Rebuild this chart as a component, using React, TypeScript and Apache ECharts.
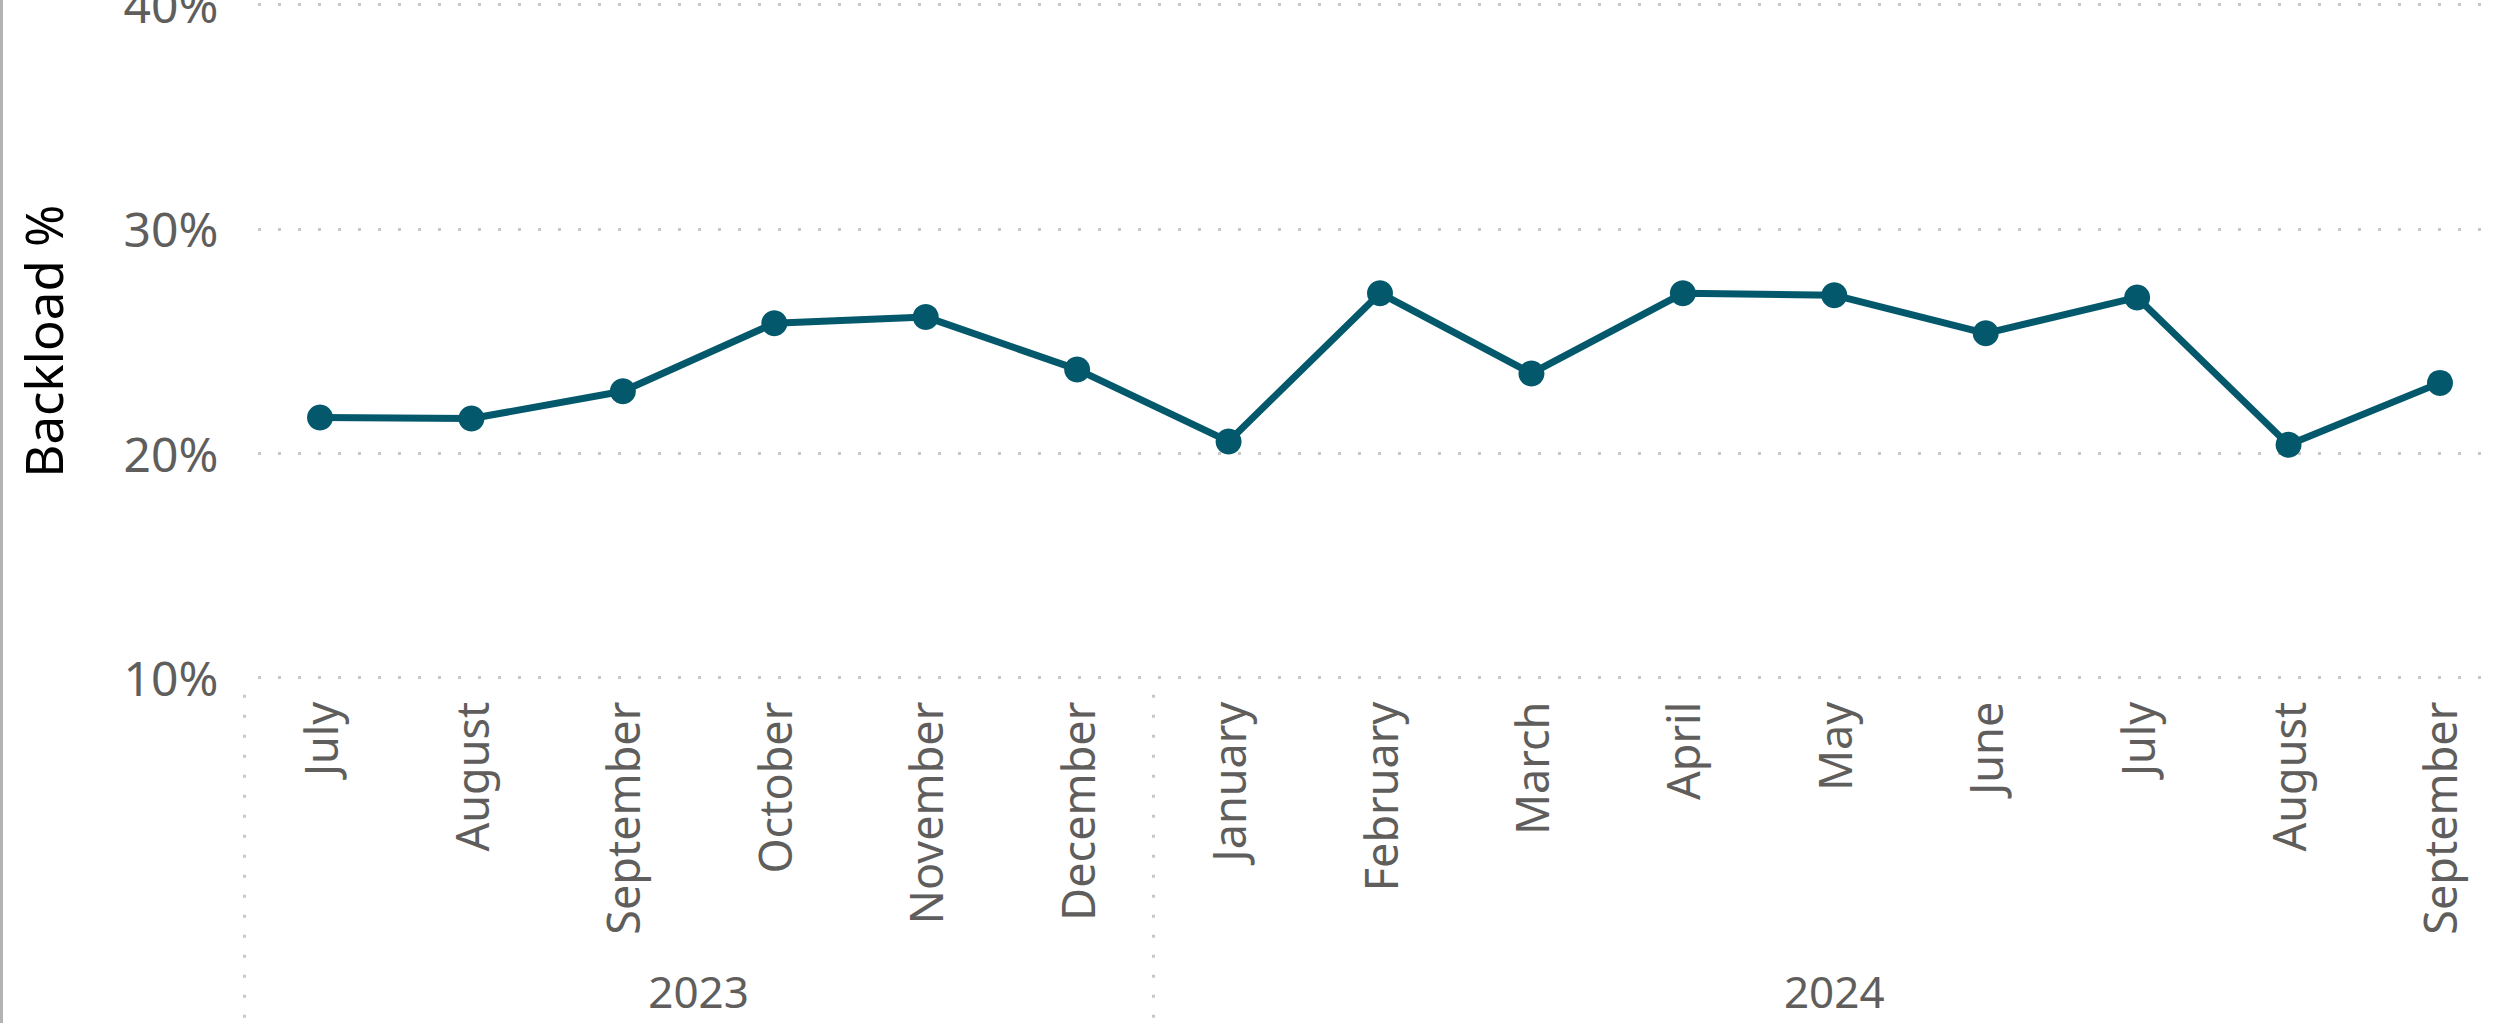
import React, { useEffect, useRef } from "react";
import * as echarts from "echarts";

const months = [
  "July", "August", "September", "October", "November", "December",
  "January", "February", "March", "April", "May", "June", "July", "August", "September",
];
const backload = [
  21.6, 21.55, 22.77, 25.8, 26.08, 23.74,
  20.53, 27.14, 23.56, 27.13, 27.05, 25.35, 26.95, 20.38, 23.14,
];
const years = ["2023", "2024"];
const yearMonthCounts = [6, 9];
const yTicks = [10, 20, 30, 40];

const FONT = "Noto Sans";
const GRAY = "#605E5C";
const DOT = "#C8C8C8";
const LINE = "#03596B";

export default function App() {
  const ref = useRef<HTMLDivElement>(null);

  useEffect(() => {
    if (!ref.current) return;
    const chart = echarts.init(ref.current, null, { renderer: "svg" });

    // Year axis: half-month resolution points from 0 to total months
    const total = yearMonthCounts.reduce((a, b) => a + b, 0);
    const yearAxisData: string[] = [];
    for (let i = 0; i <= total * 2; i++) yearAxisData.push("");
    const boundaryIdx: number[] = [0];
    const labelIdx: number[] = [];
    let acc = 0;
    yearMonthCounts.forEach((c, k) => {
      const centerIdx = acc * 2 + c;
      yearAxisData[centerIdx] = years[k];
      labelIdx.push(centerIdx);
      acc += c;
      boundaryIdx.push(acc * 2);
    });

    const top = 4.6;
    const bottom = 345.3;

    chart.setOption({
      animation: false,
      backgroundColor: "#ffffff",
      textStyle: { fontFamily: FONT },
      graphic: [
        {
          type: "rect",
          left: 0,
          top: 0,
          shape: { x: 0, y: 0, width: 3, height: 1023 },
          style: { fill: "#B3B3B3" },
          silent: true,
        },
      ],
      grid: [
        { left: 244.3, right: -7.7, top, bottom, containLabel: false, outerBoundsMode: "none" },
        { left: 258, right: 26, top, bottom, containLabel: false, outerBoundsMode: "none" },
      ],
      xAxis: [
        {
          type: "category",
          gridIndex: 0,
          data: months,
          boundaryGap: true,
          axisLine: { show: false },
          axisTick: { show: false },
          splitLine: { show: false },
          axisLabel: {
            rotate: 90,
            margin: 24,
            interval: 0,
            fontSize: 45,
            fontFamily: FONT,
            color: GRAY,
          },
        },
        {
          type: "category",
          gridIndex: 0,
          data: yearAxisData,
          boundaryGap: false,
          position: "bottom",
          offset: 17,
          axisLine: { show: false },
          axisTick: {
            show: true,
            interval: (idx: number) => boundaryIdx.includes(idx),
            length: 340,
            lineStyle: { color: DOT, width: 3, type: [3, 17] },
          },
          splitLine: { show: false },
          axisLabel: {
            interval: (idx: number) => labelIdx.includes(idx),
            margin: 274,
            fontSize: 44,
            fontFamily: FONT,
            color: GRAY,
          },
        },
        {
          type: "value",
          gridIndex: 1,
          show: false,
          min: 0,
          max: 1,
        },
      ],
      yAxis: [
        {
          type: "value",
          gridIndex: 0,
          min: yTicks[0],
          max: yTicks[yTicks.length - 1],
          interval: 10,
          axisLine: { show: false },
          axisTick: { show: false },
          splitLine: { show: false },
          axisLabel: {
            formatter: "{value}%",
            margin: 26,
            fontSize: 48,
            fontFamily: FONT,
            color: GRAY,
            verticalAlign: "middle",
          },
          name: "Backload %",
          nameLocation: "middle",
          nameGap: 176,
          nameTextStyle: { fontSize: 51, fontFamily: FONT, color: "#000000" },
        },
        {
          type: "value",
          gridIndex: 1,
          min: yTicks[0],
          max: yTicks[yTicks.length - 1],
          interval: 10,
          axisLine: { show: false },
          axisTick: { show: false },
          axisLabel: { show: false },
          splitLine: {
            show: true,
            lineStyle: { color: DOT, width: 3, type: [3, 17] },
          },
        },
      ],
      series: [
        {
          type: "line",
          xAxisIndex: 0,
          yAxisIndex: 0,
          data: backload,
          symbol: "circle",
          symbolSize: 26,
          lineStyle: { color: LINE, width: 7 },
          itemStyle: { color: LINE },
          label: { show: false },
        },
      ],
    });

    return () => chart.dispose();
  }, []);

  return (
    <div
      ref={ref}
      style={{ position: "fixed", left: 0, top: 0, width: 2508, height: 1023 }}
    />
  );
}
